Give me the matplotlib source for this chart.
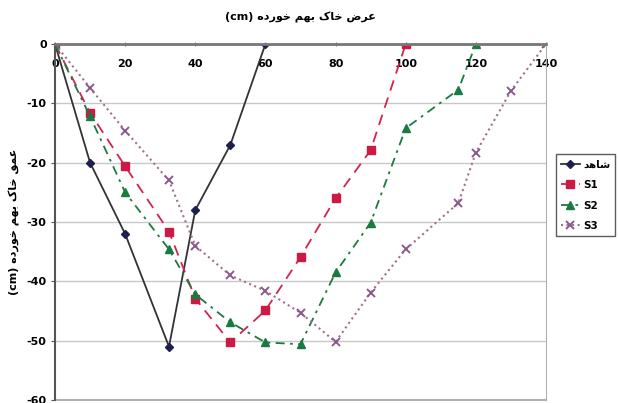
import matplotlib
matplotlib.use('Agg')

import matplotlib.pyplot as plt

plt.rcParams['axes.unicode_minus'] = False

# Arabic/Persian text is shaped by hand (matplotlib has no shaping)
FORMS = {
    'ع': ('\uFEC9', '\uFECA', '\uFECB', '\uFECC'),
    'ر': ('\uFEAD', '\uFEAE', None, None),
    'ض': ('\uFEBD', '\uFEBE', '\uFEBF', '\uFEC0'),
    'خ': ('\uFEA5', '\uFEA6', '\uFEA7', '\uFEA8'),
    'ا': ('\uFE8D', '\uFE8E', None, None),
    'ک': ('\uFB8E', '\uFB8F', '\uFB90', '\uFB91'),
    'ب': ('\uFE8F', '\uFE90', '\uFE91', '\uFE92'),
    'ه': ('\uFEE9', '\uFEEA', '\uFEEB', '\uFEEC'),
    'م': ('\uFEE1', '\uFEE2', '\uFEE3', '\uFEE4'),
    'و': ('\uFEED', '\uFEEE', None, None),
    'د': ('\uFEA9', '\uFEAA', None, None),
    'ق': ('\uFED5', '\uFED6', '\uFED7', '\uFED8'),
    'ش': ('\uFEB5', '\uFEB6', '\uFEB7', '\uFEB8'),
}


def rtl(text):
    out = []
    for i, ch in enumerate(text):
        if ch not in FORMS:
            out.append(ch)
            continue
        prev = text[i - 1] if i > 0 else ''
        nxt = text[i + 1] if i + 1 < len(text) else ''
        jp = prev in FORMS and FORMS[prev][2] is not None
        jn = FORMS[ch][2] is not None and nxt in FORMS
        iso, fin, ini, med = FORMS[ch]
        if jp and jn:
            out.append(med)
        elif jp:
            out.append(fin)
        elif jn:
            out.append(ini)
        else:
            out.append(iso)
    return ''.join(reversed(out))


# data (width in cm, depth in cm)
x_shahed = [0, 10, 20, 32.5, 40, 50, 60]
y_shahed = [0, -20, -32, -51, -28, -17, 0]

x_s1 = [0, 10, 20, 32.5, 40, 50, 60, 70, 80, 90, 100]
y_s1 = [0, -11.6, -20.6, -31.6, -42.9, -50.3, -44.9, -35.9, -26, -17.9, 0]

x_s2 = [0, 10, 20, 32.5, 40, 50, 60, 70, 80, 90, 100, 115, 120]
y_s2 = [0, -12.2, -25, -34.6, -42.2, -46.9, -50.3, -50.6, -38.5, -30.1, -14.2, -7.7, 0]

x_s3 = [0, 10, 20, 32.5, 40, 50, 60, 70, 80, 90, 100, 115, 120, 130, 140]
y_s3 = [0, -7.4, -14.6, -23, -34, -39, -41.6, -45.3, -50.2, -41.9, -34.6, -26.8, -18.3, -7.9, 0]

names = [rtl('شاهد'), 'S1', 'S2', 'S3']
xticks = [0, 20, 40, 60, 80, 100, 120, 140]
yticks = [0, -10, -20, -30, -40, -50, -60]

title_txt = '(cm) ' + rtl('عرض خاک بهم خورده')
ylabel_txt = '(cm) ' + rtl('عمق خاک بهم خورده')

fig = plt.figure(figsize=(6.18, 4.03), dpi=100)
ax = fig.add_axes([0.089, 0.0074, 0.7945, 0.8834])

ax.plot(x_shahed, y_shahed, '-', color='#333333', lw=1.3,
        marker='D', ms=4, mfc='#1f1f4f', mec='#1f1f4f', label=names[0])
ax.plot(x_s1, y_s1, '--', color='#d4234f', lw=1.3, dashes=(6, 4),
        marker='s', ms=6, mfc='#cc1a44', mec='#cc1a44', label=names[1])
ax.plot(x_s2, y_s2, '-.', color='#1b7a3f', lw=1.3, dashes=(5, 3, 1.5, 3),
        marker='^', ms=5.5, mfc='#1b7a3f', mec='#1b7a3f', label=names[2])
ax.plot(x_s3, y_s3, ':', color='#a0708f', lw=1.5,
        marker='x', ms=5.5, mew=1.4, mfc='#8a5a8a', mec='#8a5a8a', label=names[3])

ax.set_xlim(0, 140)
ax.set_ylim(-60, 0)
ax.set_xticks(xticks)
ax.set_yticks(yticks)

ax.grid(axis='y', color='#c8c8c8', lw=1)
ax.set_axisbelow(True)

# x axis sits on the zero line at the top
ax.spines['bottom'].set_position(('data', 0))
ax.spines['bottom'].set_color('#777777')
ax.spines['bottom'].set_linewidth(2)
ax.spines['top'].set_visible(False)
ax.spines['left'].set_color('#555555')
ax.spines['left'].set_linewidth(1.5)
ax.spines['right'].set_color('#b0b0b0')
ax.axhline(-60, color='#b0b0b0', lw=1.5, clip_on=False)

ax.tick_params(axis='x', length=3, direction='inout', color='#777777', pad=9)
ax.tick_params(axis='y', length=3, direction='out', color='#555555', pad=3)
for lab in ax.get_xticklabels() + ax.get_yticklabels():
    lab.set_fontweight('bold')
    lab.set_fontsize(8)

ax.set_title(title_txt, fontsize=8, fontweight='bold', pad=17)
ax.set_ylabel(ylabel_txt, fontsize=8, fontweight='bold')
ax.yaxis.set_label_coords(-0.071, 0.5)

leg = ax.legend(loc='center left', bbox_to_anchor=(1.02, 0.575), fontsize=7.5,
                frameon=True, fancybox=False, edgecolor='#333333',
                handlelength=1.8, borderpad=0.5, labelspacing=1.0,
                handletextpad=0.3, borderaxespad=0)
for t in leg.get_texts():
    t.set_fontweight('bold')

fig.savefig('out.png', dpi=100)
